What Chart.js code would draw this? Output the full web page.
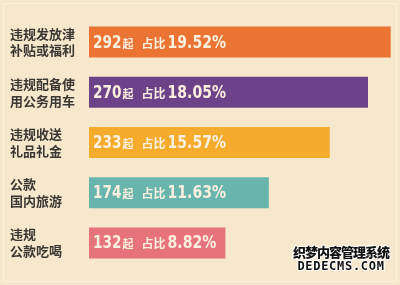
<!DOCTYPE html>
<html lang="zh-CN">
<head>
<meta charset="UTF-8">
<title>违规问题分类</title>
<style>
  body {
    margin: 0;
    background-color: #f6e7cd;
  }
  .wrap {
    position: relative;
    width: 400px;
    height: 285px;
    overflow: hidden;
  }
  .frame {
    position: absolute;
    left: 3px; top: 3px; right: 3px; bottom: 3px;
    border: 1px solid rgba(255, 250, 240, 0.6);
    pointer-events: none;
  }
  .mark {
    position: absolute;
    right: 11px;
    bottom: 11px;
    font-family: "Noto Sans CJK SC", sans-serif;
    font-weight: 900;
    color: #111;
    text-align: center;
    line-height: 15px;
    text-shadow: 1px 0 #fff, -1px 0 #fff, 0 1px #fff, 0 -1px #fff, 1px 1px #fff, -1px -1px #fff;
  }
  .mark .cn { font-size: 13px; letter-spacing: -1px; }
  .mark .en { font-family: "DejaVu Sans Mono", monospace; font-size: 12px; letter-spacing: 0.7px; }
</style>
<script src="https://cdn.jsdelivr.net/npm/chart.js"></script>
</head>
<body>
<div class="wrap">
  <canvas id="chart" width="400" height="285"></canvas>
  <div class="frame"></div>
  <div class="mark"><div class="cn">织梦内容管理系统</div><div class="en">DEDECMS.COM</div></div>
</div>

<script>
// data
var categories = [
  ['违规发放津', '补贴或福利'],
  ['违规配备使', '用公务用车'],
  ['违规收送', '礼品礼金'],
  ['公款', '国内旅游'],
  ['违规', '公款吃喝']
];
var counts = [292, 270, 233, 174, 132];
var shares = ['19.52', '18.05', '15.57', '11.63', '8.82'];
var barColors = ['#ec7433', '#6c4389', '#f5ab2c', '#68b5ad', '#e6727b'];

var numFont = '"DejaVu Sans", sans-serif';
var cjkFont = '"Noto Sans CJK SC", sans-serif';

// writes "292起 占比19.52%" inside each bar; digits squeezed to look condensed
var barText = {
  id: 'barText',
  afterDatasetsDraw: function(chart) {
    var ctx = chart.ctx;
    var meta = chart.getDatasetMeta(0);
    ctx.save();
    ctx.fillStyle = '#fcf0e0';
    ctx.textBaseline = 'alphabetic';
    ctx.textAlign = 'left';
    meta.data.forEach(function(bar, i) {
      var x = bar.base + 4;
      var y = bar.y + 5.5;
      var parts = [
        { t: String(counts[i]), f: 'bold 18px ' + numFont, sx: 0.76, gap: 1 },
        { t: '起', f: 'bold 11px ' + cjkFont, sx: 1, gap: 8 },
        { t: '占比', f: 'bold 12px ' + cjkFont, sx: 1, gap: 2 },
        { t: shares[i] + '%', f: 'bold 18px ' + numFont, sx: 0.78, gap: 0 }
      ];
      parts.forEach(function(p) {
        ctx.font = p.f;
        ctx.save();
        ctx.translate(x, y);
        ctx.scale(p.sx, 1);
        ctx.fillText(p.t, 0, 0);
        ctx.restore();
        x += ctx.measureText(p.t).width * p.sx + p.gap;
      });
    });
    ctx.restore();
  }
};

new Chart(document.getElementById('chart'), {
  type: 'bar',
  data: {
    labels: categories,
    datasets: [{
      data: counts,
      backgroundColor: barColors,
      borderWidth: 0,
      categoryPercentage: 1,
      barPercentage: 0.62
    }]
  },
  plugins: [barText],
  options: {
    indexAxis: 'y',
    responsive: false,
    animation: false,
    events: [],
    layout: { padding: { left: 10, right: 1, top: 13, bottom: 13 } },
    plugins: {
      legend: { display: false },
      tooltip: { enabled: false }
    },
    scales: {
      x: {
        display: false,
        min: 0,
        max: 300
      },
      y: {
        grid: { display: false },
        border: { display: false },
        afterFit: function(scale) { scale.width = 79; },
        ticks: {
          crossAlign: 'far',
          color: '#3b3733',
          padding: 0,
          font: { family: cjkFont, size: 13, weight: 'bold', lineHeight: 1.3 }
        }
      }
    }
  }
});
</script>
</body>
</html>
